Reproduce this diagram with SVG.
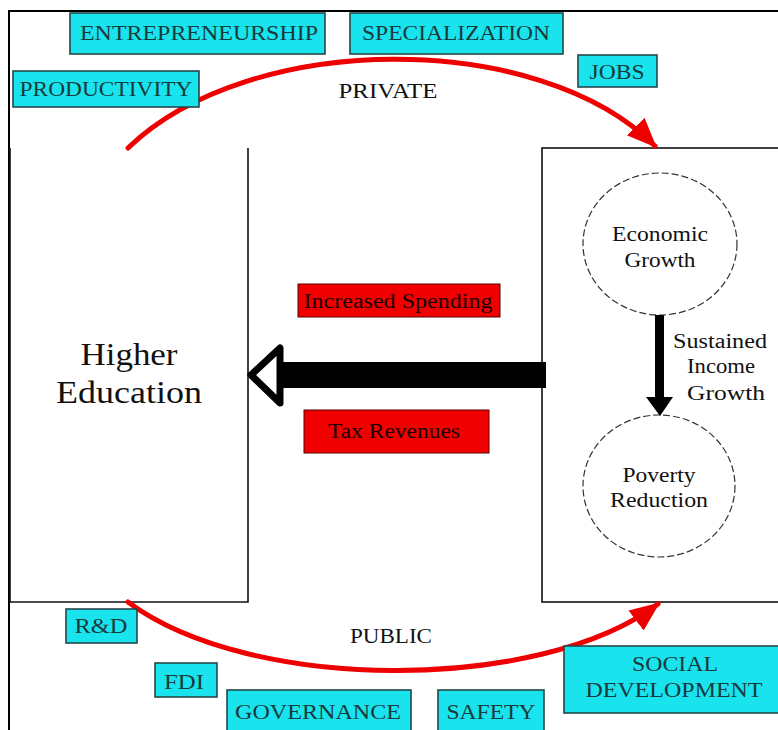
<svg xmlns="http://www.w3.org/2000/svg" width="778" height="730" viewBox="0 0 778 730">
<style>
.t{font-family:"Liberation Serif","Times New Roman",serif;fill:#111;}
.tag rect{fill:#19e3ec;stroke:#24484a;stroke-width:1.6;}
.tag text{font-family:"Liberation Serif","Times New Roman",serif;fill:#173a3c;font-size:21px;}
.red rect{fill:#f00000;stroke:#5a0000;stroke-width:1;}
.red text{font-family:"Liberation Serif","Times New Roman",serif;fill:#1a0000;font-size:20px;}
.box{fill:none;stroke:#111;stroke-width:1.6;}
.circ{fill:none;stroke:#333;stroke-width:1.2;stroke-dasharray:7 3;}
.arc{fill:none;stroke:#ee0000;stroke-width:5;stroke-linecap:round;}
</style>
<defs>
<marker id="redhead" markerUnits="userSpaceOnUse" markerWidth="30" markerHeight="30" viewBox="0 0 24 20" refX="22" refY="10" orient="auto">
<path d="M0,0 L24,10 L0,20 Z" fill="#ee0000"/>
</marker>
</defs>
<rect width="778" height="730" fill="#fff"/>
<path d="M9,730 L9,11 L778,11" fill="none" stroke="#000" stroke-width="2"/>

<g id="higher-education">
<path class="box" d="M10,148 L10,602 L248,602 L248,148"/>
<text class="t" x="129" y="365" font-size="32" text-anchor="middle" textLength="97" lengthAdjust="spacingAndGlyphs">Higher</text>
<text class="t" x="129" y="403" font-size="32" text-anchor="middle" textLength="146" lengthAdjust="spacingAndGlyphs">Education</text>
</g>

<g id="outcomes">
<rect class="box" x="542" y="148" width="250" height="454"/>
</g>

<g id="economic-growth">
<ellipse class="circ" cx="660" cy="244" rx="77" ry="71"/>
<text class="t" x="660" y="241" font-size="20" text-anchor="middle" textLength="96" lengthAdjust="spacingAndGlyphs">Economic</text>
<text class="t" x="660" y="267" font-size="20" text-anchor="middle" textLength="71" lengthAdjust="spacingAndGlyphs">Growth</text>
</g>

<g id="poverty-reduction">
<ellipse class="circ" cx="659" cy="486" rx="76" ry="71"/>
<text class="t" x="659" y="482" font-size="20" text-anchor="middle" textLength="73" lengthAdjust="spacingAndGlyphs">Poverty</text>
<text class="t" x="659" y="507" font-size="20" text-anchor="middle" textLength="98" lengthAdjust="spacingAndGlyphs">Reduction</text>
</g>

<g id="connectors">
<path class="arc" d="M128,148 C250,30 540,30 655,146" marker-end="url(#redhead)"/>
<path class="arc" d="M128,602 C250,693 540,693 658,604" marker-end="url(#redhead)"/>
<rect x="655" y="315" width="9" height="84" fill="#000"/>
<polygon points="646,397 673,397 660,416" fill="#000"/>
<rect x="276" y="362" width="270" height="26" fill="#000"/>
<polygon points="251,375 280,348 280,403" fill="#fff" stroke="#000" stroke-width="7" stroke-linejoin="round"/>
<text class="t" x="720" y="348" font-size="20" text-anchor="middle" textLength="94" lengthAdjust="spacingAndGlyphs">Sustained</text>
<text class="t" x="721" y="373" font-size="20" text-anchor="middle" textLength="68" lengthAdjust="spacingAndGlyphs">Income</text>
<text class="t" x="726" y="400" font-size="20" text-anchor="middle" textLength="78" lengthAdjust="spacingAndGlyphs">Growth</text>
<text class="t" x="388" y="98" font-size="20" text-anchor="middle" textLength="99" lengthAdjust="spacingAndGlyphs">PRIVATE</text>
<text class="t" x="391" y="643" font-size="20" text-anchor="middle" textLength="82" lengthAdjust="spacingAndGlyphs">PUBLIC</text>
</g>

<g id="increased-spending" class="red">
<rect x="298" y="284" width="202" height="33"/>
<text x="398" y="308" text-anchor="middle" textLength="189" lengthAdjust="spacingAndGlyphs">Increased Spending</text>
</g>
<g id="tax-revenues" class="red">
<rect x="304" y="410" width="185" height="43"/>
<text x="394" y="438" text-anchor="middle" textLength="132" lengthAdjust="spacingAndGlyphs">Tax Revenues</text>
</g>

<g id="entrepreneurship" class="tag">
<rect x="70" y="13" width="255" height="41"/>
<text x="199" y="40" text-anchor="middle" textLength="238" lengthAdjust="spacingAndGlyphs">ENTREPRENEURSHIP</text>
</g>
<g id="specialization" class="tag">
<rect x="350" y="13" width="213" height="41"/>
<text x="456" y="40" text-anchor="middle" textLength="188" lengthAdjust="spacingAndGlyphs">SPECIALIZATION</text>
</g>
<g id="productivity" class="tag">
<rect x="13" y="71" width="186" height="36"/>
<text x="106" y="96" text-anchor="middle" textLength="173" lengthAdjust="spacingAndGlyphs">PRODUCTIVITY</text>
</g>
<g id="jobs" class="tag">
<rect x="578" y="55" width="79" height="32"/>
<text x="617" y="79" text-anchor="middle" textLength="55" lengthAdjust="spacingAndGlyphs">JOBS</text>
</g>
<g id="rd" class="tag">
<rect x="66" y="609" width="71" height="34"/>
<text x="101" y="633" text-anchor="middle" textLength="53" lengthAdjust="spacingAndGlyphs">R&amp;D</text>
</g>
<g id="fdi" class="tag">
<rect x="155" y="663" width="62" height="34"/>
<text x="184" y="689" text-anchor="middle" textLength="40" lengthAdjust="spacingAndGlyphs">FDI</text>
</g>
<g id="governance" class="tag">
<rect x="227" y="690" width="184" height="45"/>
<text x="318" y="719" text-anchor="middle" textLength="166" lengthAdjust="spacingAndGlyphs">GOVERNANCE</text>
</g>
<g id="safety" class="tag">
<rect x="438" y="690" width="106" height="45"/>
<text x="491" y="719" text-anchor="middle" textLength="89" lengthAdjust="spacingAndGlyphs">SAFETY</text>
</g>
<g id="social-development" class="tag">
<rect x="564" y="646" width="220" height="67"/>
<text x="675" y="671" text-anchor="middle" textLength="86" lengthAdjust="spacingAndGlyphs">SOCIAL</text>
<text x="674" y="697" text-anchor="middle" textLength="177" lengthAdjust="spacingAndGlyphs">DEVELOPMENT</text>
</g>
</svg>
